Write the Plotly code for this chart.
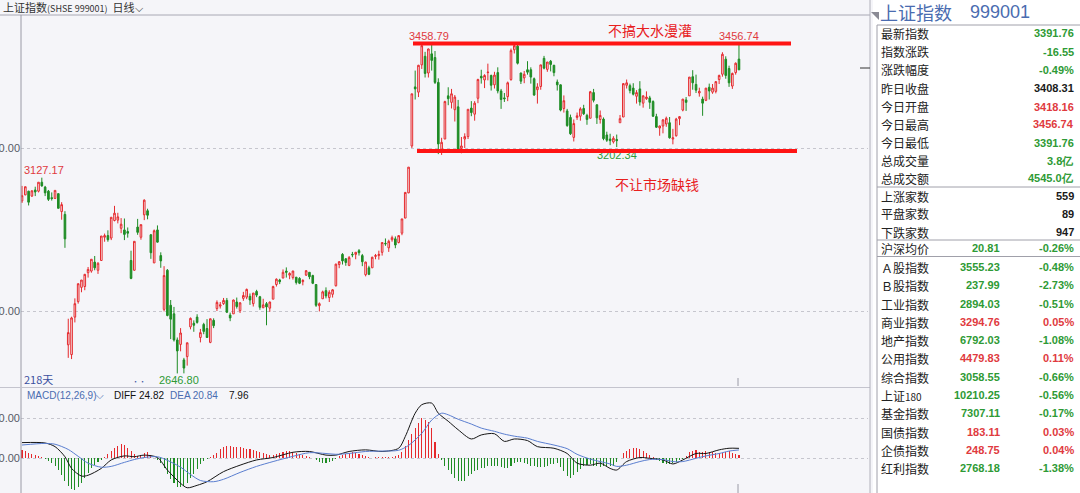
import plotly.graph_objects as go

W, H = 1080, 493

# ---------------- daily candles (218 days shown) ----------------
opens = [3070,3085,3094,3082,3097,3094,3116,3104,3094,3078,3076,3088,3044,3037,
         2717,2693,2785,2823,2858,2860,2894,2898,2920,2900,2924,2981,2985,2979,3022,3023,3003,2999,2995,2924,
         2900,3006,2981,3036,3046,2987,2918,2999,2936,2804,2900,2814,2793,2729,2718,2680,2688,2761,2770,2785,2735,2767,
         2757,2723,2777,2806,2812,2818,2826,2790,2793,2822,2801,2831,2834,2836,2818,2848,2835,2808,2818,2807,2829,
         2865,2876,2881,2898,2888,2882,2883,2880,2872,2888,2895,2887,2865,2813,2830,2850,2833,2841,
         2862,2914,2939,2928,2912,2939,2939,2948,2936,2889,2906,2906,2934,2936,2944,2966,2955,2975,2977,2968,
         2991,3028,3090,3205,3350,3337,3404,3425,3384,3431,3422,3361,3195,3222,3328,3312,3294,3301,3199,3222,3228,3298,3283,
         3322,3376,3367,3385,3378,3355,3385,3340,3323,3326,3368,3441,3450,3384,3372,3392,3392,3370,3343,3351,3420,
         3393,3413,3403,3362,3355,3297,3291,3275,3226,3275,3278,3297,3280,3273,3336,3306,3270,3271,3232,3222,3215,3221,
         3262,3276,3354,3353,3347,3327,3345,3310,3321,3323,3314,3277,3249,3254,3259,3262,
         3222,3230,3272,3293,3318,3328,3375,3356,3335,3320,3317,3349,3337,3339,3368,3381,3418,3395,3352,3385,3418.16]
highs = [3107,3105,3095,3096,3105,3116,3127.17,3107,3097,3091,3096,3088,3067,3045,
         2781,2786,2831,2867,2876,2891,2908,2927,2935,2920,2984,2990,2998,3030,3058,3041,3028,3027,3005,2948,
         2971,3026,3012,3074,3051,2989,3000,3010,2944,2910,2903,2827,2810,2735,2758,2685,2722,2784,2777,2792,2756,2771,
         2780,2781,2782,2826,2822,2832,2832,2796,2828,2833,2822,2847,2855,2843,2844,2852,2837,2830,2822,2823,2862,
         2880,2879,2902,2907,2895,2899,2883,2883,2878,2900,2895,2889,2865,2821,2850,2858,2851,2854,
         2916,2922,2942,2930,2935,2945,2945,2952,2940,2921,2911,2933,2940,2948,2968,2978,2975,2985,2983,2986,
         3026,3091,3153,3333,3390,3404,3458.79,3436,3444,3456,3438,3371,3225,3316,3349,3345,3330,3318,3227,3236,3295,3315,3315,
         3370,3392,3381,3407,3380,3387,3398,3345,3335,3363,3444,3458,3454,3385,3389,3413,3398,3373,3359,3404,3426,
         3411,3416,3404,3368,3356,3329,3296,3282,3270,3287,3300,3306,3284,3340,3345,3307,3292,3275,3240,3235,3229,3233,
         3281,3359,3368,3358,3359,3342,3364,3329,3339,3328,3317,3284,3255,3271,3277,3276,
         3247,3274,3278,3320,3325,3374,3391,3380,3348,3326,3347,3358,3357,3363,3380,3435,3425,3402,3385,3410,3456.74]
lows = [3065,3084,3059,3080,3082,3091,3105,3082,3070,3071,3076,3052,3024,2955,
        2685,2682,2772,2818,2846,2851,2882,2894,2900,2891,2924,2970,2970,2974,3020,3015,2991,2974,2980,2878,
        2899,2987,2975,3023,3025,2928,2918,2968,2906,2799,2787,2731,2725,2646.80,2701,2647,2666,2755,2749,2769,2723,2743,
        2734,2721,2758,2800,2806,2815,2795,2775,2793,2806,2795,2825,2829,2815,2811,2834,2803,2807,2765,2798,2829,
        2860,2866,2880,2882,2878,2877,2865,2866,2863,2886,2878,2866,2810,2799,2830,2831,2822,2833,
        2860,2905,2914,2911,2910,2932,2927,2936,2910,2885,2888,2906,2927,2926,2936,2960,2945,2970,2954,2966,
        2986,3028,3089,3200,3319,3325,3394,3373,3373,3390,3357,3185,3183,3222,3305,3297,3265,3191,3187,3200,3222,3278,3267,
        3310,3358,3347,3366,3341,3346,3334,3296,3313,3315,3365,3432,3405,3357,3359,3380,3358,3328,3309,3343,3393,
        3387,3388,3376,3341,3290,3287,3252,3232,3216,3269,3267,3281,3257,3273,3312,3259,3260,3219,3215,3207,3211,3202.34,
        3262,3276,3346,3334,3329,3309,3304,3299,3318,3296,3276,3249,3230,3236,3252,3223,
        3209,3228,3256,3290,3291,3328,3343,3335,3326,3279,3315,3319,3333,3334,3357,3375,3370,3350,3345,3380,3391.76]
closes = [3083,3105,3067,3095,3092,3116,3107,3090,3074,3076,3096,3052,3061,2977,
          2747,2783,2818,2867,2876,2890,2902,2927,2906,2917,2984,2985,2975,3030,3040,3031,3013,2988,2991,2880,
          2971,2993,3012,3072,3035,2943,2997,2969,2923,2887,2789,2780,2729,2702,2746,2660,2722,2782,2765,2772,2747,2750,
          2735,2781,2764,2821,2815,2826,2797,2783,2827,2811,2820,2838,2853,2827,2844,2839,2809,2815,2810,2822,2860,
          2878,2872,2895,2895,2892,2898,2870,2868,2875,2899,2884,2868,2814,2818,2847,2837,2846,2852,
          2915,2921,2923,2919,2931,2938,2944,2943,2921,2920,2890,2932,2936,2939,2968,2965,2971,2980,2962,2985,
          3026,3091,3153,3333,3345,3403,3451,3383,3443,3415,3361,3210,3214,3314,3321,3333,3325,3197,3205,3228,3295,3287,3310,
          3368,3372,3378,3386,3354,3379,3340,3319,3321,3360,3439,3451,3408,3364,3381,3386,3374,3330,3350,3404,3396,
          3411,3405,3385,3355,3293,3316,3255,3235,3260,3279,3296,3284,3270,3338,3317,3274,3280,3223,3219,3218,3224,3218,
          3272,3358,3360,3341,3332,3336,3313,3328,3325,3312,3278,3251,3254,3269,3273,3225,
          3225,3271,3277,3320,3312,3374,3360,3342,3339,3310,3347,3340,3347,3363,3378,3430,3378,3360,3383,3408,3391.76]
days = list(range(len(closes)))

# ---------------- MACD(12,26,9) ----------------
diff_days = [0,7,10,13,15,18,20,24,27,31,34,37,41,44,48,50,53,56,61,66,71,76,82,87,92,95,99,104,109,114,
             116,119,121,124,126,129,132,136,139,143,146,149,153,156,161,165,168,172,175,178,180,
             183,187,190,194,197,200,204,207,211,214,217]
diff_vals = [39,38,29,4,-25,-44,-42,-25,-4,6,4,8,2,-29,-62,-73,-67,-58,-33,-17,-4,2,15,17,8,8,17,21,17,25,
             54,112,133,137,112,92,71,48,58,61,42,48,44,29,25,12,-12,-17,-12,-25,-29,
             -8,2,0,-4,-14,-4,12,12,21,25,24.82]
dea_days = [0,7,10,14,17,20,24,27,31,34,37,41,44,48,51,54,58,61,66,71,76,82,87,92,95,99,104,109,114,
            117,121,124,127,129,132,136,139,143,146,149,153,156,161,165,168,172,175,178,180,
            183,187,190,194,197,200,204,207,211,214,217]
dea_vals = [33,37,35,22,5,-12,-22,-20,-10,-3,2,4,-5,-22,-40,-55,-58,-52,-35,-20,-8,5,14,12,10,12,17,18,20,
            32,62,95,112,108,97,85,75,67,60,55,50,42,33,24,10,-2,-8,-14,-20,
            -17,-8,-3,-3,-8,-8,0,6,12,18,20.84]
macd_hist = [20,17,14,11,8,5,3,-2,-6,-12,
             -20,-30,-42,-55,-68,-77,-79,-72,-60,-48,
             -36,-25,-16,-9,-4,3,10,18,25,31,
             35,32,26,18,10,5,8,12,15,8,
             2,-4,-12,-25,-38,-52,-62,-70,-72,-68,
             -60,-50,-38,-26,-15,-7,-2,3,8,14,
             22,27,30,30,28,27,27,25,24,22,
             20,18,15,12,10,8,9,11,13,16,
             18,18,16,12,10,8,5,3,2,-3,
             -8,-11,-12,-10,-6,-1,5,8,10,14,
             15,12,10,8,5,3,2,3,3,4,
             3,4,4,5,8,15,30,45,60,75,
             88,100,95,90,75,40,10,-5,-20,-30,
             -40,-48,-55,-56,-55,-45,-38,-32,-28,-25,
             -24,-20,-19,-18,-20,-22,-24,-25,-18,-12,
             -8,-9,-12,-15,-18,-20,-21,-22,-21,-19,
             -15,-13,-12,-22,-32,-44,-48,-42,-35,-26,
             -20,-16,-15,-18,-20,-22,-19,-18,-20,-18,
             -10,2,12,18,24,25,25,22,18,13,
             8,4,-3,-6,-11,-14,-15,-12,-9,-5,
             -1,5,15,19,20,16,15,18,16,15,
             13,12,14,16,18,14,10,8]

# ---------------- right-hand quote panel ----------------
top_labels = ["最新指数", "指数涨跌", "涨跌幅度", "昨日收盘", "今日开盘", "今日最高", "今日最低", "总成交量", "总成交额"]
top_values = ["3391.76", "-16.55", "-0.49%", "3408.31", "3418.16", "3456.74", "3391.76", "3.8亿", "4545.0亿"]
top_colors = ["g", "g", "g", "k", "r", "r", "g", "g", "g"]
breadth_labels = ["上涨家数", "平盘家数", "下跌家数"]
breadth_values = ["559", "89", "947"]
idx_labels = ["沪深均价", "Ａ股指数", "Ｂ股指数", "工业指数", "商业指数", "地产指数", "公用指数", "综合指数",
              "上证<span style='font-size:10px'>180</span>", "基金指数", "国债指数", "企债指数", "红利指数"]
idx_values = ["20.81", "3555.23", "237.99", "2894.03", "3294.76", "6792.03", "4479.83", "3058.55",
              "10210.25", "7307.11", "183.11", "248.75", "2768.18"]
idx_pcts = ["-0.26%", "-0.48%", "-2.73%", "-0.51%", "0.05%", "-1.08%", "0.11%", "-0.66%",
            "-0.56%", "-0.17%", "0.03%", "0.04%", "-1.38%"]

RED = "#E5292D"
GREEN = "#1E8C24"
TXT_RED = "#E03A3E"
TXT_GREEN = "#2E9A35"
BLUE = "#4A6CB0"
BG = "#F5F5F9"
GRID = "#C6C6CE"
CJK = "Noto Sans CJK SC"
LAT = "Liberation Sans"
COLMAP = {"g": TXT_GREEN, "r": TXT_RED, "k": "#1A1A1A"}

# pixel calibration of the main panel: x = 22 + 3.304*day ; y = 148 - 0.4075*(price-3200)
def day_at(px):
    return (px - 22) / 3.304

def price_at(py):
    return 3200 + (148 - py) / 0.4075

def fx(px):
    return px / W

def fy(py):
    return 1 - py / H

fig = go.Figure()

fig.add_trace(go.Candlestick(
    x=days, open=opens, high=highs, low=lows, close=closes,
    increasing=dict(line=dict(color=RED, width=1), fillcolor="rgba(0,0,0,0)"),
    decreasing=dict(line=dict(color=GREEN, width=1), fillcolor=GREEN),
    whiskerwidth=0, showlegend=False, hoverinfo="skip",
    xaxis="x", yaxis="y"))

# price labels (as text traces so the drawn red lines sit above them)
lbl_text = ["3127.17", "3458.79", "3456.74", "3202.34", "2646.80"]
lbl_px = [24, 409, 719, 597, 159]
lbl_py = [171, 37, 37, 156, 381]
lbl_col = [TXT_RED, TXT_RED, TXT_RED, TXT_GREEN, TXT_GREEN]
fig.add_trace(go.Scatter(
    x=[day_at(p) for p in lbl_px], y=[price_at(p) for p in lbl_py],
    mode="text", text=lbl_text, textposition="middle right",
    textfont=dict(family=LAT, size=11, color=lbl_col),
    showlegend=False, hoverinfo="skip", xaxis="x", yaxis="y"))

fig.add_trace(go.Bar(
    x=days, y=macd_hist, width=0.32,
    marker=dict(color=[RED if v >= 0 else GREEN for v in macd_hist], line=dict(width=0)),
    showlegend=False, hoverinfo="skip", xaxis="x2", yaxis="y2"))
fig.add_trace(go.Scatter(
    x=diff_days, y=diff_vals, mode="lines", line=dict(color="#151515", width=1, shape="spline", smoothing=0.8),
    showlegend=False, hoverinfo="skip", xaxis="x2", yaxis="y2"))
fig.add_trace(go.Scatter(
    x=dea_days, y=dea_vals, mode="lines", line=dict(color="#5A7ED0", width=1, shape="spline", smoothing=0.8),
    showlegend=False, hoverinfo="skip", xaxis="x2", yaxis="y2"))

xr = [day_at(21), day_at(868)]
axis_common = dict(showline=False, zeroline=False, ticks="", automargin=False)
fig.update_layout(
    width=W, height=H, margin=dict(l=0, r=0, t=0, b=0, pad=0, autoexpand=False),
    paper_bgcolor=BG, plot_bgcolor=BG, showlegend=False, bargap=0,
    xaxis=dict(domain=[fx(21), fx(868)], range=xr, showticklabels=False, showgrid=False,
               rangeslider=dict(visible=False), anchor="y", **axis_common),
    yaxis=dict(domain=[fy(385), fy(16)], range=[price_at(385), price_at(16)],
               tickvals=[2800, 3200], ticktext=["2800.00", "3200.00"],
               showgrid=True, gridcolor=GRID, griddash="dot", gridwidth=1,
               tickfont=dict(family=LAT, size=11, color="#555A66"), anchor="x", **axis_common),
    xaxis2=dict(domain=[fx(21), fx(868)], range=xr, showticklabels=False, showgrid=False,
                anchor="y2", **axis_common),
    yaxis2=dict(domain=[fy(493), fy(390)], range=[-86, 169.5],
                tickvals=[0, 100], ticktext=["0.00", "100.00"],
                showgrid=True, gridcolor=GRID, griddash="dot", gridwidth=1,
                tickfont=dict(family=LAT, size=11, color="#555A66"), anchor="x2", **axis_common),
)

shapes = []
# frame lines
shapes.append(dict(type="line", xref="paper", yref="paper", x0=0, x1=fx(870), y0=fy(15), y1=fy(15),
                   line=dict(color="#A8A8B4", width=1)))
shapes.append(dict(type="line", xref="paper", yref="paper", x0=fx(21), x1=fx(21), y0=fy(15), y1=0,
                   line=dict(color="#9A9AA6", width=1)))
shapes.append(dict(type="line", xref="paper", yref="paper", x0=0, x1=fx(870), y0=fy(387.5), y1=fy(387.5),
                   line=dict(color="#C4C4CE", width=1)))
shapes.append(dict(type="line", xref="paper", yref="paper", x0=fx(870), x1=fx(870), y0=1, y1=0,
                   line=dict(color="#B0B0BA", width=1)))
shapes.append(dict(type="line", xref="paper", yref="paper", x0=fx(738), x1=fx(738), y0=fy(378), y1=fy(386),
                   line=dict(color="#9A9AA6", width=1)))
shapes.append(dict(type="line", xref="paper", yref="paper", x0=fx(738), x1=fx(738), y0=fy(484), y1=fy(493),
                   line=dict(color="#9A9AA6", width=1)))
shapes.append(dict(type="line", xref="paper", yref="paper", x0=fx(860), x1=fx(870), y0=fy(68), y1=fy(68),
                   line=dict(color="#333", width=1)))
# hand-drawn red range lines
shapes.append(dict(type="line", xref="paper", yref="paper", x0=fx(413), x1=fx(791), y0=fy(43.5), y1=fy(43.5),
                   line=dict(color="#FF1414", width=4), layer="above"))
shapes.append(dict(type="line", xref="paper", yref="paper", x0=fx(417), x1=fx(797), y0=fy(151), y1=fy(151),
                   line=dict(color="#FF1414", width=4), layer="above"))
# right panel
shapes.append(dict(type="rect", xref="paper", yref="paper", x0=fx(873), x1=1, y0=0, y1=1,
                   fillcolor="#FFFFFF", line=dict(width=0), layer="above"))
shapes.append(dict(type="path", xref="paper", yref="paper",
                   path=f"M {fx(871)},{fy(12)} L {fx(879)},{fy(12)} L {fx(879)},{fy(20)} Z",
                   fillcolor="#8A8A94", line=dict(width=0), layer="above"))
shapes.append(dict(type="line", xref="paper", yref="paper", x0=fx(877), x1=fx(877), y0=fy(25), y1=0,
                   line=dict(color="#A0A0AA", width=1), layer="above"))
for ysep in [25, 187, 240, 256.5]:
    shapes.append(dict(type="line", xref="paper", yref="paper", x0=fx(877), x1=1, y0=fy(ysep), y1=fy(ysep),
                       line=dict(color="#A0A0AA", width=1), layer="above"))
fig.update_layout(shapes=shapes)

ann = []
def text(x, y, s, size=11, color="#222", family=CJK, anchor="left"):
    ann.append(dict(xref="paper", yref="paper", x=fx(x), y=fy(y), text=s, showarrow=False,
                    xanchor=anchor, yanchor="middle", font=dict(family=family, size=size, color=color)))

text(1, 7, "上证指数<span style='font-size:9px'>(SHSE 999001)</span>  日线⌵", size=11, color="#333")
text(606, 30, "不搞大水漫灌", size=14, color="#E8201E")
text(613, 184, "不让市场缺钱", size=14, color="#E8201E")
text(22, 379, "218天", size=11, color="#3A50A0")
text(130, 381, "••", size=7, color="#3A50A0")
text(25, 395, "MACD(12,26,9)⌵", size=10, color=BLUE, family=LAT)
text(112, 395, "DIFF 24.82", size=10, color="#111", family=LAT)
text(168, 395, "DEA 20.84", size=10, color=BLUE, family=LAT)
text(227, 395, "7.96", size=10, color="#111", family=LAT)

# right panel texts
text(878, 12.5, "上证指数", size=18, color=BLUE)
text(968, 12.5, "999001", size=18, color=BLUE, family=LAT)
top_y = [33.5, 51.5, 70, 88, 106.5, 124.5, 142.5, 160.5, 178.5]
for lab, val, c, y in zip(top_labels, top_values, top_colors, top_y):
    text(879, y, lab, size=12, color="#222")
    text(1076, y, "<b>" + val + "</b>", size=11, color=COLMAP[c], family=LAT, anchor="right")
for lab, val, y in zip(breadth_labels, breadth_values, [196, 214, 232]):
    text(879, y, lab, size=12, color="#222")
    text(1076, y, "<b>" + val + "</b>", size=11, color="#1A1A1A", family=LAT, anchor="right")
idx_y = [248, 267, 285, 304, 322, 340, 358, 377, 395, 413, 432, 450, 468]
for lab, val, pct, y in zip(idx_labels, idx_values, idx_pcts, idx_y):
    col = TXT_GREEN if pct.startswith("-") else TXT_RED
    text(879, y, lab, size=12, color="#222")
    text(1002, y, "<b>" + val + "</b>", size=11, color=col, family=LAT, anchor="right")
    text(1076, y, "<b>" + pct + "</b>", size=11, color=col, family=LAT, anchor="right")

fig.update_layout(annotations=ann)
fig.write_html("out.html", config={"displayModeBar": False, "staticPlot": True},
               post_script="document.body.style.margin='0px';document.body.style.overflow='hidden';")
